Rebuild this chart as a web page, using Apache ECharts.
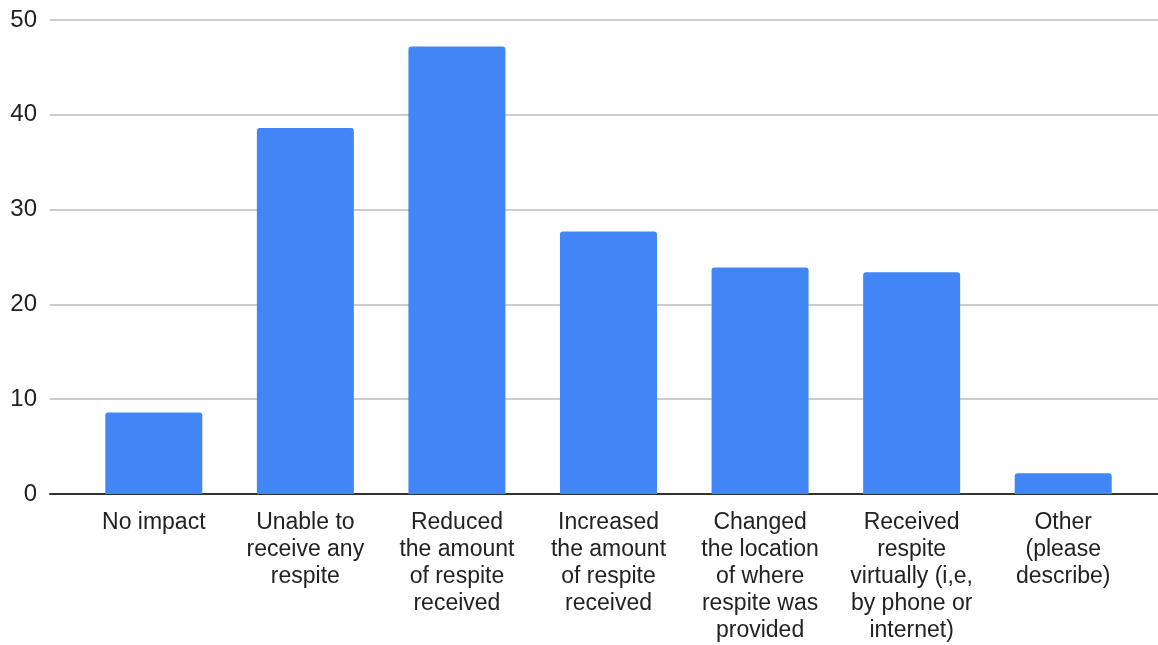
<!DOCTYPE html>
<html>
<head>
<meta charset="utf-8">
<script src="https://cdn.jsdelivr.net/npm/echarts@6/dist/echarts.min.js"></script>
<style>
  html, body { margin: 0; padding: 0; background: #ffffff; }
  #chart { width: 1158px; height: 645px; }
</style>
</head>
<body>
<div id="chart"></div>
<script>
// Impact on respite received
const categories = [
  'No impact',
  'Unable to\nreceive any\nrespite',
  'Reduced\nthe amount\nof respite\nreceived',
  'Increased\nthe amount\nof respite\nreceived',
  'Changed\nthe location\nof where\nrespite was\nprovided',
  'Received\nrespite\nvirtually (i,e,\nby phone or\ninternet)',
  'Other\n(please\ndescribe)'
];
const values = [8.6, 38.6, 47.2, 27.7, 23.9, 23.4, 2.2];
const yTicks = { min: 0, max: 50, interval: 10 };

const FONT = '"Liberation Sans", Arial, sans-serif';
const TOP = 20;
const BOTTOM = 151;

const chart = echarts.init(document.getElementById('chart'), null, { renderer: 'canvas' });
chart.setOption({
  animation: false,
  backgroundColor: '#ffffff',
  grid: [
    // full-width grid: value labels, gridlines and baseline
    { left: 50, right: 0, top: TOP, bottom: BOTTOM, containLabel: false },
    // inner grid holding the category bars
    { left: 78, right: 19, top: TOP, bottom: BOTTOM, containLabel: false }
  ],
  xAxis: [
    {
      gridIndex: 0,
      type: 'category',
      data: [''],
      axisLine: { show: true, lineStyle: { color: '#333333', width: 2 } },
      axisTick: { show: false },
      axisLabel: { show: false },
      splitLine: { show: false }
    },
    {
      gridIndex: 1,
      type: 'category',
      data: categories,
      axisLine: { show: false },
      axisTick: { show: false },
      splitLine: { show: false },
      axisLabel: {
        interval: 0,
        margin: 15,
        color: '#222222',
        fontFamily: FONT,
        fontSize: 23,
        lineHeight: 27,
        align: 'center',
        verticalAlign: 'top'
      }
    }
  ],
  yAxis: [
    {
      gridIndex: 0,
      type: 'value',
      min: yTicks.min,
      max: yTicks.max,
      interval: yTicks.interval,
      axisLine: { show: false },
      axisTick: { show: false },
      axisLabel: {
        margin: 13,
        color: '#222222',
        fontFamily: FONT,
        fontSize: 24
      },
      splitLine: { show: true, lineStyle: { color: '#cccccc', width: 2 } }
    },
    {
      gridIndex: 1,
      type: 'value',
      min: yTicks.min,
      max: yTicks.max,
      interval: yTicks.interval,
      show: false,
      splitLine: { show: false }
    }
  ],
  series: [
    {
      type: 'bar',
      xAxisIndex: 1,
      yAxisIndex: 1,
      data: values,
      barWidth: 97,
      z: 3,
      itemStyle: { color: '#4285f4', borderRadius: [3, 3, 0, 0] }
    }
  ]
});
</script>
</body>
</html>
